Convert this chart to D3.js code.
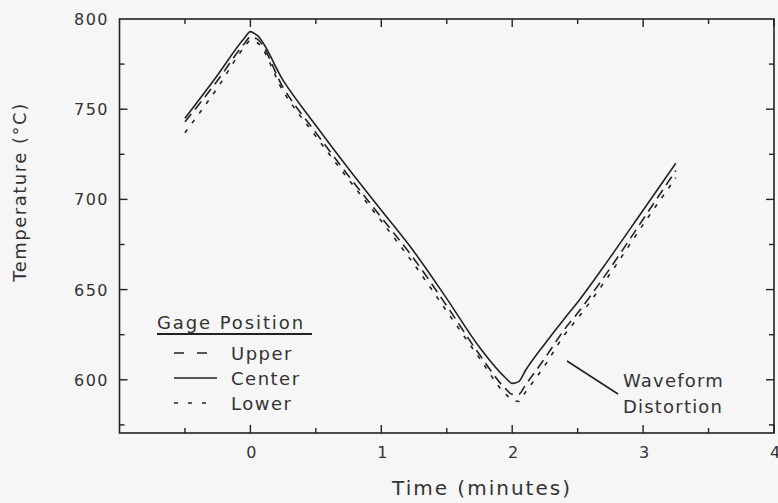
<!DOCTYPE html>
<html><head><meta charset="utf-8">
<script src="https://cdn.jsdelivr.net/npm/d3@7"></script>
<style>body{margin:0;background:#f6f6f6}svg{display:block}text{font-family:"DejaVu Sans",sans-serif;fill:#333}</style>
</head><body><svg id="c" width="778" height="503"></svg>
<script>
const time   = [-0.5,-0.25,-0.05,0,0.05,0.25,0.5,0.75,1.0,1.25,1.5,1.75,1.95,2.0,2.05,2.1,2.25,2.4,2.5,2.75,3.0,3.25];
const center = [745,769,789,793,791,766,741,717,694,671,645,618,601,598,599,605,620,634,643,668,694,720];
const upper  = [743,766,786,790,789,762,737,713,690,667,641,614,595,592,592,597,612,628,637,662,689,716];
const lower  = [737,762,784,788,787,760,735,711,688,664,638,612,592,589,588,593,608,625,634,659,686,712];
const xTicks = [0,1,2,3,4];
const yTicks = [600,650,700,750,800];
const seriesNames = ["Upper","Center","Lower"];

const svg = d3.select("#c");
const L=119.5, R=774, T=19, B=433;
const x = d3.scaleLinear().domain([-1,4]).range([L,R]);
const y = d3.scaleLinear().domain([570.5,800]).range([B,T]);
const ink="#222";

const dashes = {Upper:"10,6", Center:null, Lower:"4,8"};
const legendDashes = {Upper:"10,13", Center:null, Lower:"4,10"};
const data = {Upper:upper, Center:center, Lower:lower};

// frame
svg.append("rect").attr("x",L).attr("y",T).attr("width",R-L).attr("height",B-T)
  .attr("fill","none").attr("stroke",ink).attr("stroke-width",1.6);

const xMinor = d3.range(-0.5,4,0.5);
const yMinor = d3.range(575,800,25);
xMinor.concat([4]).forEach(v=>{
  const len = Number.isInteger(v)?8:5;
  svg.append("line").attr("x1",x(v)).attr("x2",x(v)).attr("y1",B).attr("y2",B-len).attr("stroke",ink).attr("stroke-width",1.4);
  svg.append("line").attr("x1",x(v)).attr("x2",x(v)).attr("y1",T).attr("y2",T+len).attr("stroke",ink).attr("stroke-width",1.4);
});
yMinor.forEach(v=>{
  const len = v%50===0?8:5;
  svg.append("line").attr("y1",y(v)).attr("y2",y(v)).attr("x1",L).attr("x2",L+len).attr("stroke",ink).attr("stroke-width",1.4);
  svg.append("line").attr("y1",y(v)).attr("y2",y(v)).attr("x1",R).attr("x2",R-len).attr("stroke",ink).attr("stroke-width",1.4);
});

xTicks.forEach(v=>{
  svg.append("text").attr("x",x(v)+1).attr("y",458).attr("text-anchor","middle")
    .attr("font-size",16).text(v);
});
yTicks.forEach(v=>{
  svg.append("text").attr("x",109).attr("y",y(v)+6).attr("text-anchor","end")
    .attr("font-size",16).attr("letter-spacing",1.5).text(v);
});

svg.append("text").attr("x",482).attr("y",495).attr("text-anchor","middle")
  .attr("font-size",20).attr("letter-spacing",2).text("Time (minutes)");
svg.append("text").attr("transform","translate(26,192) rotate(-90)").attr("text-anchor","middle")
  .attr("font-size",18).attr("letter-spacing",1.5).text("Temperature (°C)");

const line = d3.line().x((d,i)=>x(time[i])).y(d=>y(d)).curve(d3.curveMonotoneX);
seriesNames.forEach(n=>{
  svg.append("path").attr("d",line(data[n])).attr("fill","none").attr("stroke",ink)
    .attr("stroke-width",1.6).attr("stroke-dasharray",dashes[n]);
});

// legend
svg.append("text").attr("x",157).attr("y",329).attr("font-size",18).attr("letter-spacing",1.9).text("Gage Position");
svg.append("line").attr("x1",157).attr("x2",312).attr("y1",334).attr("y2",334).attr("stroke",ink).attr("stroke-width",1.8);
seriesNames.forEach((n,i)=>{
  const yy = 353+i*25;
  svg.append("line").attr("x1",174).attr("x2",n==="Center"?217:210).attr("y1",yy).attr("y2",yy)
    .attr("stroke",ink).attr("stroke-width",1.6).attr("stroke-dasharray",legendDashes[n]);
  svg.append("text").attr("x",231).attr("y",yy+7).attr("font-size",18).attr("letter-spacing",1.5).text(n);
});

// annotation
svg.append("line").attr("x1",567).attr("y1",361).attr("x2",618).attr("y2",394).attr("stroke",ink).attr("stroke-width",1.6);
svg.append("text").attr("x",623).attr("y",387).attr("font-size",18).attr("letter-spacing",1.2).text("Waveform");
svg.append("text").attr("x",623).attr("y",413).attr("font-size",18).attr("letter-spacing",1.2).text("Distortion");
</script></body></html>
